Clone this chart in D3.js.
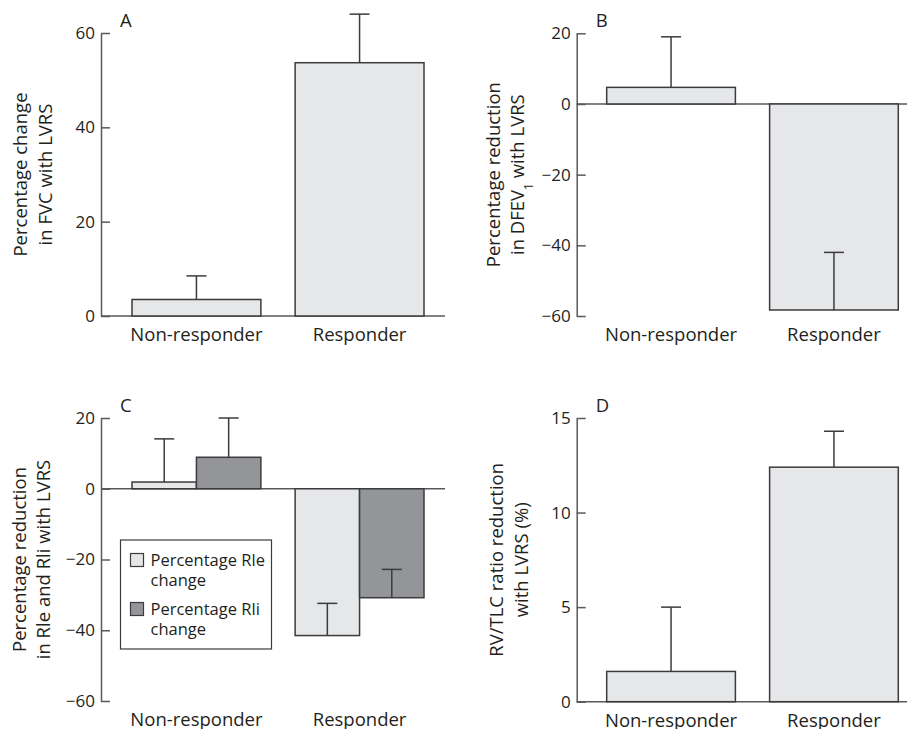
<!DOCTYPE html>
<html>
<head>
<meta charset="utf-8">
<script src="https://cdn.jsdelivr.net/npm/d3@7"></script>
<style>
  body { margin: 0; background: #fff; }
  svg { font-family: "Open Sans", sans-serif; fill: #231f20; }
</style>
</head>
<body>
<svg id="chart" width="907" height="729"></svg>
<script>
// values
const categories = ["Non-responder", "Responder"];

const fvcMean = [3.5, 53.7];
const fvcErr = [8.5, 64];

const dfevMean = [4.7, -58.3];
const dfevErr = [19, -42];

const rleMean = [1.9, -41.5];
const rleErr = [14.1, -32.4];
const rliMean = [8.9, -30.8];
const rliErr = [20, -22.8];

const rvMean = [1.6, 12.4];
const rvErr = [5.0, 14.3];

const ticksA = [0, 20, 40, 60];
const ticksB = [-60, -40, -20, 0, 20];
const ticksC = [-60, -40, -20, 0, 20];
const ticksD = [0, 5, 10, 15];

const legendLabels = [["Percentage Rle", "change"], ["Percentage Rli", "change"]];

const LIGHT = "#e6e7e8";
const DARK = "#939598";
const INK = "#231f20";
const AXIS = "#58595b";

const svg = d3.select("#chart");

function minus(v) {
    return v < 0 ? "\u2212" + Math.abs(v) : String(v);
}

function drawPanel(p) {
    const g = svg.append("g");

    const y = d3.scaleLinear().domain(p.domain).range([p.bottom, p.top]);
    const x = d3.scaleBand().domain(categories).range(p.barRange).paddingInner(0.21);
    const sub = d3.scaleBand().domain(d3.range(p.series.length)).range([0, x.bandwidth()]);

    // baseline / zero line
    g.append("line")
        .attr("x1", p.axisX).attr("x2", p.lineEnd)
        .attr("y1", y(0)).attr("y2", y(0))
        .attr("stroke", AXIS).attr("stroke-width", 1.5);

    p.series.forEach(function(s, si) {
        categories.forEach(function(c, ci) {
            const x0 = x(c) + sub(si);
            const w = sub.bandwidth();
            const v = s.mean[ci];
            g.append("rect")
                .attr("x", x0).attr("width", w)
                .attr("y", Math.min(y(v), y(0)))
                .attr("height", Math.abs(y(v) - y(0)))
                .attr("fill", s.fill)
                .attr("stroke", "#3b3b3d").attr("stroke-width", 1.5);

            const cx = x0 + w / 2;
            g.append("line")
                .attr("x1", cx).attr("x2", cx)
                .attr("y1", y(v)).attr("y2", y(s.err[ci]))
                .attr("stroke", "#3b3b3d").attr("stroke-width", 1.5);
            g.append("line")
                .attr("x1", cx - 10).attr("x2", cx + 10)
                .attr("y1", y(s.err[ci])).attr("y2", y(s.err[ci]))
                .attr("stroke", "#3b3b3d").attr("stroke-width", 1.5);
        });
    });

    // y axis, ticks pointing inward
    const ax = g.append("g")
        .attr("transform", "translate(" + p.axisX + ",0)")
        .call(d3.axisLeft(y).tickValues(p.ticks).tickFormat(minus)
            .tickSizeInner(-9).tickSizeOuter(0).tickPadding(6));
    ax.select(".domain").attr("stroke", AXIS).attr("stroke-width", 1.5);
    ax.selectAll(".tick line").attr("stroke", AXIS).attr("stroke-width", 1.5);
    ax.selectAll(".tick text")
        .attr("fill", INK)
        .style("font-family", "Open Sans")
        .style("font-size", "17px");

    // category labels
    g.selectAll(".cat").data(categories).enter().append("text")
        .attr("x", function(d) { return x(d) + x.bandwidth() / 2; })
        .attr("y", p.bottom + 25)
        .attr("text-anchor", "middle")
        .style("font-size", "18.5px")
        .text(function(d) { return d; });

    // panel letter
    g.append("text")
        .attr("x", p.axisX + 19).attr("y", p.top - 6.5)
        .style("font-size", "18.5px")
        .text(p.letter);

    // axis title, two rotated lines
    const cy = (p.top + p.bottom) / 2;
    p.title.forEach(function(line, i) {
        const t = g.append("text")
            .attr("transform", "translate(" + p.titleX[i] + "," + cy + ") rotate(-90)")
            .attr("text-anchor", "middle")
            .style("font-size", "18.5px");
        line.forEach(function(part) {
            const ts = t.append("tspan").text(part.t);
            if (part.sub) ts.attr("baseline-shift", "sub").style("font-size", "12px");
        });
    });

    return { x: x, y: y };
}

drawPanel({
    letter: "A", axisX: 101, lineEnd: 445, top: 33, bottom: 316, domain: [0, 60],
    barRange: [132, 424], ticks: ticksA,
    series: [{ mean: fvcMean, err: fvcErr, fill: LIGHT }],
    title: [[{ t: "Percentage change" }], [{ t: "in FVC with LVRS" }]],
    titleX: [27, 52]
});

drawPanel({
    letter: "B", axisX: 576.7, lineEnd: 907, top: 33.3, bottom: 316, domain: [-60, 20],
    barRange: [606.7, 898.3], ticks: ticksB,
    series: [{ mean: dfevMean, err: dfevErr, fill: LIGHT }],
    title: [[{ t: "Percentage reduction" }],
            [{ t: "in DFEV" }, { t: "1", sub: true }, { t: " with LVRS" }]],
    titleX: [499.5, 524]
});

drawPanel({
    letter: "C", axisX: 101, lineEnd: 445, top: 418, bottom: 701, domain: [-60, 20],
    barRange: [132, 424], ticks: ticksC,
    series: [{ mean: rleMean, err: rleErr, fill: LIGHT },
             { mean: rliMean, err: rliErr, fill: DARK }],
    title: [[{ t: "Percentage reduction" }], [{ t: "in Rle and Rli with LVRS" }]],
    titleX: [26, 50]
});

drawPanel({
    letter: "D", axisX: 576.7, lineEnd: 907, top: 418, bottom: 701.7, domain: [0, 15],
    barRange: [606.7, 898.3], ticks: ticksD,
    series: [{ mean: rvMean, err: rvErr, fill: LIGHT }],
    title: [[{ t: "RV/TLC ratio reduction" }], [{ t: "with LVRS (%)" }]],
    titleX: [503, 528]
});

// legend in panel C
const legend = svg.append("g").attr("transform", "translate(120.5,540)");
legend.append("rect")
    .attr("width", 151).attr("height", 109)
    .attr("fill", "#fff").attr("stroke", "#3b3b3d").attr("stroke-width", 1.2);
const fills = [LIGHT, DARK];
legendLabels.forEach(function(lines, i) {
    const row = legend.append("g").attr("transform", "translate(0," + (i * 49) + ")");
    row.append("rect")
        .attr("x", 10).attr("y", 13.5).attr("width", 13).attr("height", 13)
        .attr("fill", fills[i]).attr("stroke", "#3b3b3d").attr("stroke-width", 1.2);
    lines.forEach(function(l, j) {
        row.append("text")
            .attr("x", 30).attr("y", 26 + j * 20)
            .style("font-size", "16.5px")
            .text(l);
    });
});
</script>
</body>
</html>
